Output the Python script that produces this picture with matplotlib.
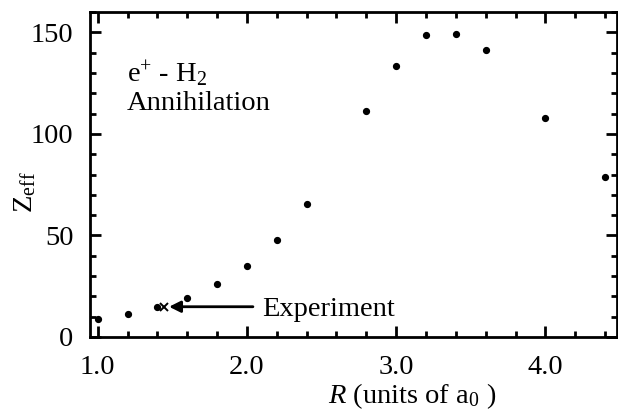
import matplotlib.pyplot as plt
from matplotlib.ticker import MultipleLocator

plt.rcParams["font.family"] = ["Liberation Serif", "DejaVu Serif"]
plt.rcParams["mathtext.fontset"] = "custom"
plt.rcParams["mathtext.rm"] = "Liberation Serif"
plt.rcParams["mathtext.it"] = "Liberation Serif:italic"

# Theory: Zeff vs internuclear distance R
R = [1.0, 1.2, 1.4, 1.6, 1.8, 2.0, 2.2, 2.4, 2.8, 3.0, 3.2, 3.4, 3.6, 4.0, 4.4]
zeff = [8.7, 11.2, 14.6, 19.4, 26.0, 35.0, 47.9, 65.4, 111.5, 133.5, 148.8, 149.4, 141.2, 108.0, 78.7]

# Experimental value
exp_R = [1.446]
exp_zeff = [14.9]

fs = 20.5

fig = plt.figure(figsize=(6.18, 4.12), dpi=100)
ax = fig.add_axes([90 / 618, 1 - 337 / 412, 527 / 618, 325 / 412])

ax.plot(R, zeff, "o", color="black", markersize=4.2, linestyle="none")
ax.plot(exp_R, exp_zeff, "x", color="black", markersize=6, markeredgewidth=1.4)

ax.annotate("", xy=(1.478, exp_zeff[0]), xytext=(2.04, exp_zeff[0]),
            arrowprops=dict(arrowstyle="-|>", color="black", lw=2,
                            mutation_scale=17, shrinkA=0, shrinkB=0))
ax.text(2.10, 10.5, "Experiment", fontsize=fs, va="baseline", ha="left")

ax.text(1.196, 125.6, "e$^{+}$ - H$_2$", fontsize=fs, va="baseline", ha="left")
ax.text(1.196, 111.8, "Annihilation", fontsize=fs, va="baseline", ha="left")

ax.set_xlim(0.948, 4.48)
ax.set_ylim(0, 160)
ax.xaxis.set_major_locator(MultipleLocator(1.0))
ax.xaxis.set_minor_locator(MultipleLocator(0.2))
ax.yaxis.set_major_locator(MultipleLocator(50))
ax.yaxis.set_minor_locator(MultipleLocator(10))
ax.xaxis.set_major_formatter(plt.FuncFormatter(lambda v, p: f"{v:.1f}"))

ax.tick_params(which="both", direction="in", top=True, right=True,
               labelsize=fs, width=2)
ax.tick_params(axis="y", pad=12)
ax.tick_params(axis="x", pad=13)
ax.tick_params(which="major", length=8)
ax.tick_params(which="minor", length=4.5)
for s in ax.spines.values():
    s.set_linewidth(2)

ax.set_xlabel("$R$ (units of a$_0$ )", fontsize=fs, va="center")
ax.xaxis.set_label_coords(0.611, -0.182)
ax.set_ylabel("Z$_{\\mathrm{eff}}$", fontsize=fs, va="center")
ax.yaxis.set_label_coords(-0.123, 0.446)

fig.savefig("out.png", dpi=100)
